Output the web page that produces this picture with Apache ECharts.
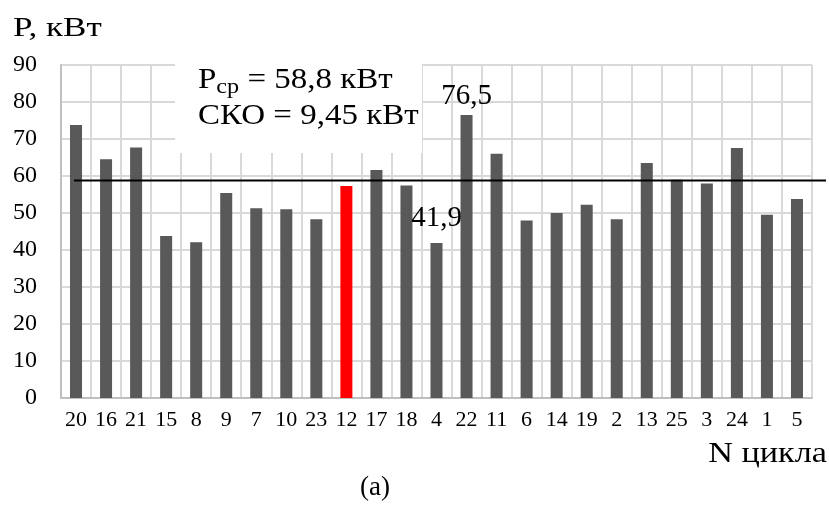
<!DOCTYPE html>
<html><head><meta charset="utf-8">
<script src="https://cdn.jsdelivr.net/npm/echarts@6/dist/echarts.min.js"></script>
<style>html,body{margin:0;padding:0;background:#fff}#c{width:829px;height:508px}</style>
</head><body><div id="c"></div>
<script>
const categories = ['20','16','21','15','8','9','7','10','23','12','17','18','4','22','11','6','14','19','2','13','25','3','24','1','5'];
const values = [73.8,64.5,67.7,43.8,42.1,55.4,51.3,51.0,48.3,57.3,61.6,57.4,41.9,76.5,66.0,48.0,50.0,52.2,48.3,63.5,59.0,58.0,67.6,49.5,53.8];
const highlightCategory = '12';
const labelledCategories = ['22','4'];
const meanValue = 58.8;
const yTicks = [0,10,20,30,40,50,60,70,80,90];
const yTitle = 'P, кВт';
const xTitle = 'N цикла';
const caption = '(a)';

const FONT = '"Liberation Serif", "DejaVu Serif", serif';
const chart = echarts.init(document.getElementById('c'), null, {renderer:'canvas'});

const barData = values.map((v,i)=>{
  const c = categories[i];
  const item = {value:v, itemStyle:{color: c===highlightCategory ? '#ff0000' : '#595959'}};
  if (labelledCategories.includes(c)) {
    item.label = {show:true, position:'top', distance: c==='4'?10:4,
      formatter: p => String(p.value).replace('.', ','),
      fontFamily:FONT, fontSize:29, color:'#000'};
  }
  return item;
});

const option = {
  animation:false,
  backgroundColor:'#fff',
  textStyle:{fontFamily:FONT},
  grid:{left:61, right:17, top:65, bottom:110, containLabel:false},
  xAxis:{type:'category', data:categories,
    axisLine:{show:true, lineStyle:{color:'#bfbfbf', width:2}},
    axisTick:{show:false},
    axisLabel:{interval:0, fontFamily:FONT, fontSize:22, color:'#000', margin:11},
    splitLine:{show:true, interval:0, lineStyle:{color:'#d9d9d9', width:2}}
  },
  yAxis:{type:'value', min:yTicks[0], max:yTicks[yTicks.length-1], interval:10,
    axisLine:{show:true, lineStyle:{color:'#bfbfbf', width:2}},
    axisTick:{show:false},
    axisLabel:{fontFamily:FONT, fontSize:24, color:'#000', margin:24},
    splitLine:{show:true, lineStyle:{color:'#d9d9d9', width:2}}
  },
  series:[{type:'bar', data:barData, barWidth:'40%', z:2}]
};
chart.setOption(option);

const p0 = chart.convertToPixel({gridIndex:0}, [0, meanValue]);
chart.setOption({graphic:[
  {type:'rect', shape:{x:175, y:40, width:247, height:113}, style:{fill:'#fff'}, z:10},
  {type:'text', x:198, y:62, z:11, scaleX:1.1, style:{
    text:'{a|P}{s|ср}{a| = 58,8 кВт}\n{a|СКО = 9,45 кВт}',
    rich:{a:{fontFamily:FONT, fontSize:30, lineHeight:36, fill:'#000'},
          s:{fontFamily:FONT, fontSize:22, lineHeight:28, verticalAlign:'bottom', fill:'#000'}},
    fill:'#000'}},
  {type:'line', z:12, shape:{x1:p0[0]-2, y1:p0[1], x2:826, y2:p0[1]}, style:{stroke:'#000', lineWidth:2}},
  {type:'text', x:13, y:15, scaleX:1.25, style:{text:yTitle, fontFamily:FONT, fontSize:28, fill:'#000'}},
  {type:'text', x:827, y:440, scaleX:1.18, style:{text:xTitle, fontFamily:FONT, fontSize:29, fill:'#000', align:'right'}},
  {type:'text', x:375, y:474, style:{text:caption, fontFamily:FONT, fontSize:27, fill:'#000', align:'center'}}
]});
</script></body></html>
